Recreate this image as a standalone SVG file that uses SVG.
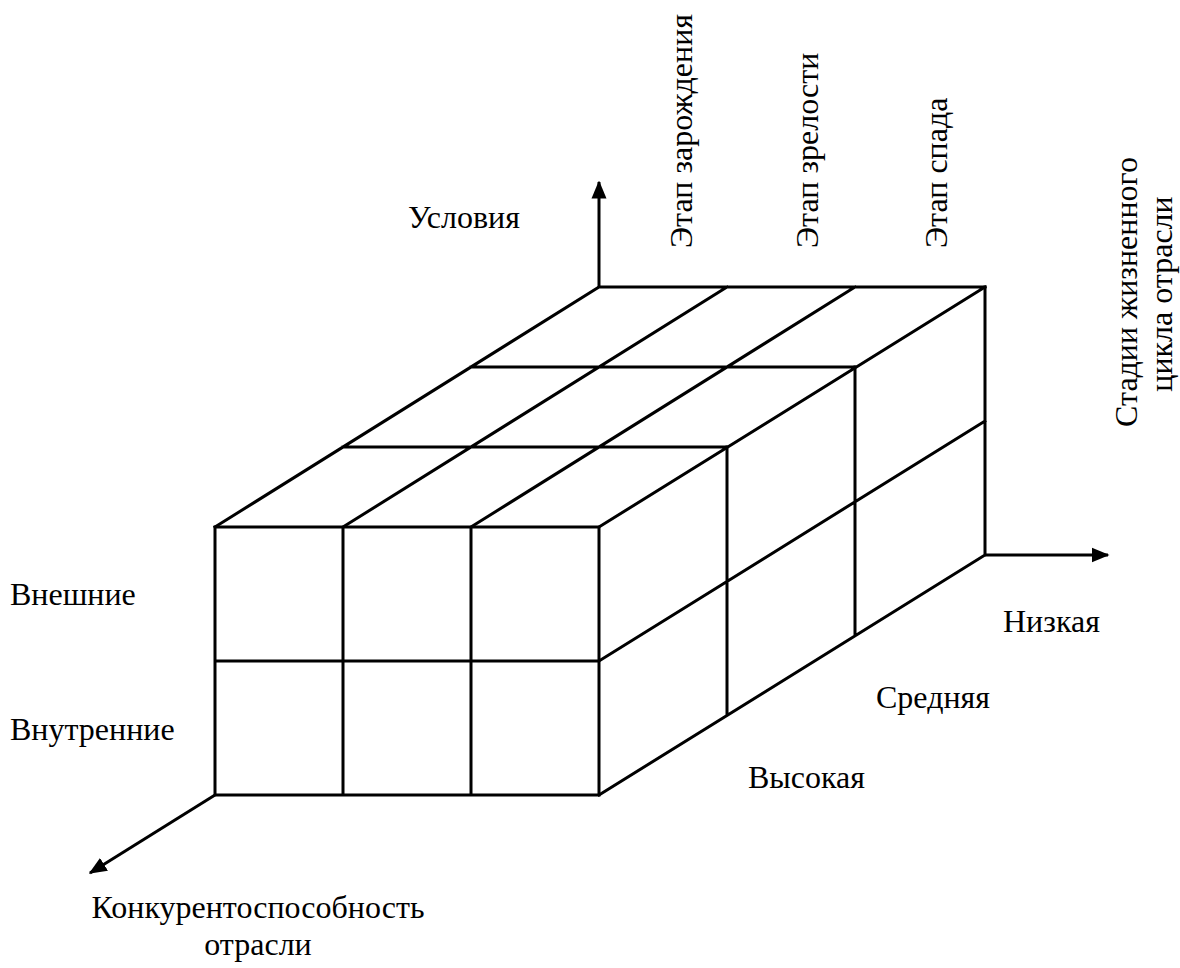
<svg xmlns="http://www.w3.org/2000/svg" width="1180" height="968" viewBox="0 0 1180 968">
<defs>
<marker id="ah" markerWidth="6" markerHeight="6" refX="5.5" refY="3" orient="auto" markerUnits="strokeWidth">
<path d="M0,0.5 L6,3 L0,5.5 Z" fill="#000"/>
</marker>
</defs>
<rect width="1180" height="968" fill="#fff"/>
<text x="408" y="228" font-family="Liberation Serif" font-size="32">Условия</text>
<text x="10" y="605" font-family="Liberation Serif" font-size="32">Внешние</text>
<text x="10" y="740" font-family="Liberation Serif" font-size="32">Внутренние</text>
<text x="1003" y="632" font-family="Liberation Serif" font-size="32">Низкая</text>
<text x="876" y="708" font-family="Liberation Serif" font-size="32">Средняя</text>
<text x="748" y="788" font-family="Liberation Serif" font-size="32">Высокая</text>
<text x="258" y="918" font-family="Liberation Serif" font-size="32" text-anchor="middle">Конкурентоспособность</text>
<text x="258" y="955" font-family="Liberation Serif" font-size="32" text-anchor="middle">отрасли</text>
<text transform="translate(692,248) rotate(-90)" font-family="Liberation Serif" font-size="32">Этап зарождения</text>
<text transform="translate(818,248) rotate(-90)" font-family="Liberation Serif" font-size="32">Этап зрелости</text>
<text transform="translate(947,248) rotate(-90)" font-family="Liberation Serif" font-size="32">Этап спада</text>
<text transform="translate(1137,292) rotate(-90)" font-family="Liberation Serif" font-size="32" text-anchor="middle">Стадии жизненного</text>
<text transform="translate(1172,294) rotate(-90)" font-family="Liberation Serif" font-size="32" text-anchor="middle">цикла отрасли</text>
<g id="cube" stroke="#000" stroke-width="3" fill="none" stroke-linecap="square">
<path d="M215,527 H599 V795 H215 Z M343,527 V795 M471,527 V795 M215,661 H599"/>
<path d="M215,527 L599,287 H985 M343,527 L727,287 M471,527 L855,287 M599,527 L985,287 M343,447 H727 M471,367 H855"/>
<path d="M985,287 V555 L599,795 M727,447 V715 M855,367 V635 M599,661 L985,421"/>
</g>
<g id="axes" stroke="#000" stroke-width="3" fill="none">
<line x1="599" y1="287" x2="599" y2="182" marker-end="url(#ah)"/>
<line x1="985" y1="555" x2="1108" y2="555" marker-end="url(#ah)"/>
<line x1="215" y1="795" x2="90" y2="873" marker-end="url(#ah)"/>
</g>
</svg>
